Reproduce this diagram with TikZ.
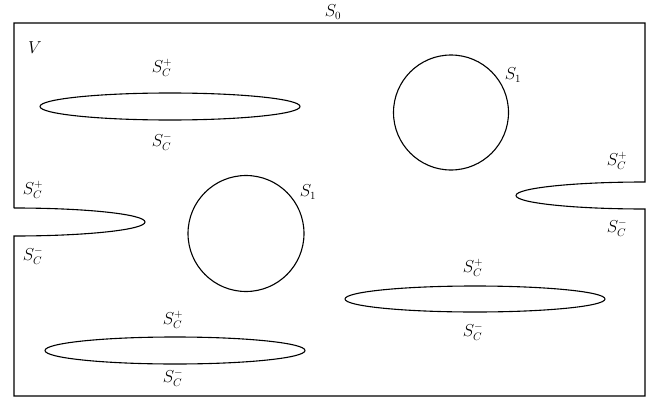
\documentclass[tikz,border=0pt]{standalone}
\begin{document}
\begin{tikzpicture}[x=1pt,y=1pt,
  lbl/.style={inner sep=0pt,font=\fontsize{16}{19}\selectfont},
  curve/.style={line width=1.1pt,black}]
\useasboundingbox (0,0) rectangle (658,400);
% outer boundary S0 with two notches
\draw[curve,line join=miter] (14,192) -- (14,377) -- (645,377) -- (645,218)
  arc[start angle=90,end angle=270,x radius=129pt,y radius=13.5pt]
  -- (645,4) -- (14,4) -- (14,164)
  arc[start angle=-90,end angle=90,x radius=131pt,y radius=14pt];
% cracks (ellipses)
\draw[curve] (170,293.5) ellipse[x radius=130pt,y radius=13.5pt];
\draw[curve] (475,101) ellipse[x radius=130pt,y radius=13pt];
\draw[curve] (175,49.5) ellipse[x radius=130pt,y radius=13.5pt];
% inclusions
\draw[curve] (451,287.5) circle[radius=57.5pt];
\draw[curve] (246,166.5) circle[radius=58pt];
% labels
\node[lbl] (s0) at (333,388) {$S_0$};
\node[lbl] (v) at (35,352) {$V$};
\node[lbl] (a1) at (162,332) {$S_C^+$};
\node[lbl] (a2) at (162,258) {$S_C^-$};
\node[lbl] (c1) at (513,325) {$S_1$};
\node[lbl] (c2) at (308,208) {$S_1$};
\node[lbl] (l1) at (33,210) {$S_C^+$};
\node[lbl] (l2) at (33,144) {$S_C^-$};
\node[lbl] (r1) at (617,239) {$S_C^+$};
\node[lbl] (r2) at (617,172) {$S_C^-$};
\node[lbl] (e1) at (473,132) {$S_C^+$};
\node[lbl] (e2) at (473,68) {$S_C^-$};
\node[lbl] (b1) at (173,80) {$S_C^+$};
\node[lbl] (b2) at (173,22) {$S_C^-$};
\end{tikzpicture}
\end{document}
